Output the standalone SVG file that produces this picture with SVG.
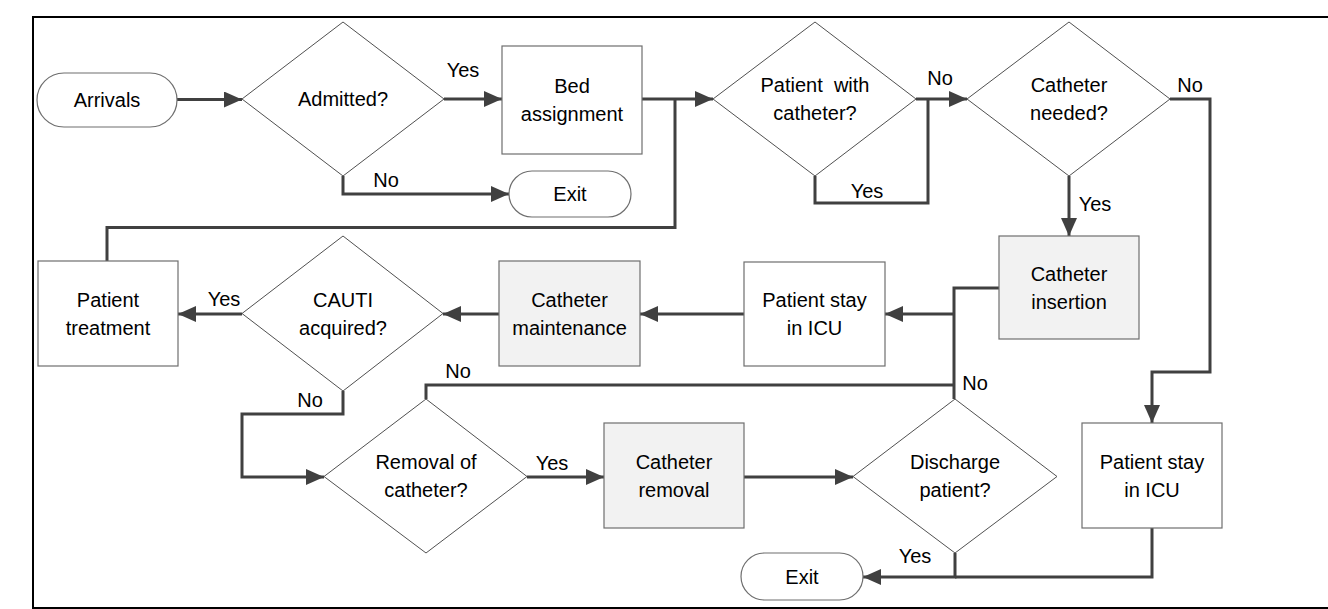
<svg xmlns="http://www.w3.org/2000/svg" width="1328" height="609" viewBox="0 0 1328 609">
<style>
.sh{fill:#fff;stroke:#6e6e6e;stroke-width:1.2}
.gr{fill:#f2f2f2}
.dm{fill:#fff;stroke:#505050;stroke-width:1}
.t{font-family:"Liberation Sans",Arial,sans-serif;font-size:20px;fill:#000;text-anchor:middle}
.l{font-family:"Liberation Sans",Arial,sans-serif;font-size:20px;fill:#000;text-anchor:middle}
.c{fill:none;stroke:#404040;stroke-width:3}
.a{marker-end:url(#ah)}
</style>
<defs>
<marker id="ah" viewBox="0 0 18 16" refX="18" refY="8" markerWidth="18" markerHeight="16" orient="auto" markerUnits="userSpaceOnUse">
<path d="M0,0 L18,8 L0,16 z" fill="#404040"/>
</marker>
</defs>
<rect width="1328" height="609" fill="#fff"/>
<path d="M1330,17 H33 V608 H1330" fill="none" stroke="#000" stroke-width="2"/>

<g id="connectors">
<path class="c a" d="M177,99.5 H242"/>
<path class="c a" d="M444,99 H502"/>
<path class="c a" d="M343,176 V194 H509"/>
<path class="c a" d="M642,99 H713"/>
<path class="c" d="M107,262 V227.5 H675 V99"/>
<path class="c" d="M815,176 V203 H928 V99"/>
<path class="c a" d="M916,99 H967"/>
<path class="c a" d="M1170,99 H1210 V372 H1152 V423"/>
<path class="c a" d="M1069,176 V236"/>
<path class="c" d="M954,399 V288 H999"/>
<path class="c a" d="M954,314 H885"/>
<path class="c" d="M426,399 V385 H954"/>
<path class="c a" d="M744,314 H640"/>
<path class="c a" d="M499,314 H443"/>
<path class="c a" d="M242,314 H178"/>
<path class="c a" d="M343,391 V414 H242 V477 H324"/>
<path class="c a" d="M527,477 H604"/>
<path class="c a" d="M744,477 H853"/>
<path class="c a" d="M955,553 V577 H863"/>
<path class="c" d="M1152,528 V577 H955"/>
<text class="l" x="463" y="77">Yes</text>
<text class="l" x="386" y="187">No</text>
<text class="l" x="867" y="198">Yes</text>
<text class="l" x="940" y="85">No</text>
<text class="l" x="1190" y="92">No</text>
<text class="l" x="1095" y="211">Yes</text>
<text class="l" x="224" y="306">Yes</text>
<text class="l" x="310" y="407">No</text>
<text class="l" x="458" y="378">No</text>
<text class="l" x="975" y="390">No</text>
<text class="l" x="552" y="470">Yes</text>
<text class="l" x="915" y="563">Yes</text>
</g>

<g id="arrivals">
<rect class="sh" x="37" y="73" width="140" height="54" rx="27" ry="27"/>
<text class="t" x="107" y="106.5">Arrivals</text>
</g>
<g id="admitted">
<polygon class="dm" points="343,22 444,99 343,176 242,99"/>
<text class="t" x="343" y="106">Admitted?</text>
</g>
<g id="bed-assignment">
<rect class="sh" x="502" y="46" width="140" height="108"/>
<text class="t" x="572" y="93">Bed</text>
<text class="t" x="572" y="121">assignment</text>
</g>
<g id="exit-top">
<rect class="sh" x="509" y="171" width="122" height="46" rx="23" ry="23"/>
<text class="t" x="570" y="201">Exit</text>
</g>
<g id="patient-with-catheter">
<polygon class="dm" points="815,22 916,99 815,176 713,99"/>
<text class="t" x="815" y="92" xml:space="preserve">Patient  with</text>
<text class="t" x="815" y="120">catheter?</text>
</g>
<g id="catheter-needed">
<polygon class="dm" points="1069,22 1170,99 1069,176 967,99"/>
<text class="t" x="1069" y="92">Catheter</text>
<text class="t" x="1069" y="120">needed?</text>
</g>
<g id="catheter-insertion">
<rect class="sh gr" x="999" y="236" width="140" height="103"/>
<text class="t" x="1069" y="281">Catheter</text>
<text class="t" x="1069" y="309">insertion</text>
</g>
<g id="patient-stay-icu-1">
<rect class="sh" x="744" y="262" width="141" height="104"/>
<text class="t" x="814.5" y="307">Patient stay</text>
<text class="t" x="814.5" y="335">in ICU</text>
</g>
<g id="catheter-maintenance">
<rect class="sh gr" x="499" y="261" width="141" height="105"/>
<text class="t" x="569.5" y="307">Catheter</text>
<text class="t" x="569.5" y="335">maintenance</text>
</g>
<g id="cauti-acquired">
<polygon class="dm" points="343,236 443,313.5 343,391 242,313.5"/>
<text class="t" x="343" y="307">CAUTI</text>
<text class="t" x="343" y="335">acquired?</text>
</g>
<g id="patient-treatment">
<rect class="sh" x="38" y="261" width="140" height="105"/>
<text class="t" x="108" y="307">Patient</text>
<text class="t" x="108" y="335">treatment</text>
</g>
<g id="removal-of-catheter">
<polygon class="dm" points="426,399 527,476.5 426,553 324,476.5"/>
<text class="t" x="426" y="469">Removal of</text>
<text class="t" x="426" y="497">catheter?</text>
</g>
<g id="catheter-removal">
<rect class="sh gr" x="604" y="423" width="140" height="105"/>
<text class="t" x="674" y="469">Catheter</text>
<text class="t" x="674" y="497">removal</text>
</g>
<g id="discharge-patient">
<polygon class="dm" points="955,399 1057,476.5 955,553 853,476.5"/>
<text class="t" x="955" y="469">Discharge</text>
<text class="t" x="955" y="497">patient?</text>
</g>
<g id="patient-stay-icu-2">
<rect class="sh" x="1082" y="423" width="140" height="105"/>
<text class="t" x="1152" y="469">Patient stay</text>
<text class="t" x="1152" y="497">in ICU</text>
</g>
<g id="exit-bottom">
<rect class="sh" x="741" y="553" width="122" height="47" rx="23.5" ry="23.5"/>
<text class="t" x="802" y="584">Exit</text>
</g>
</svg>
